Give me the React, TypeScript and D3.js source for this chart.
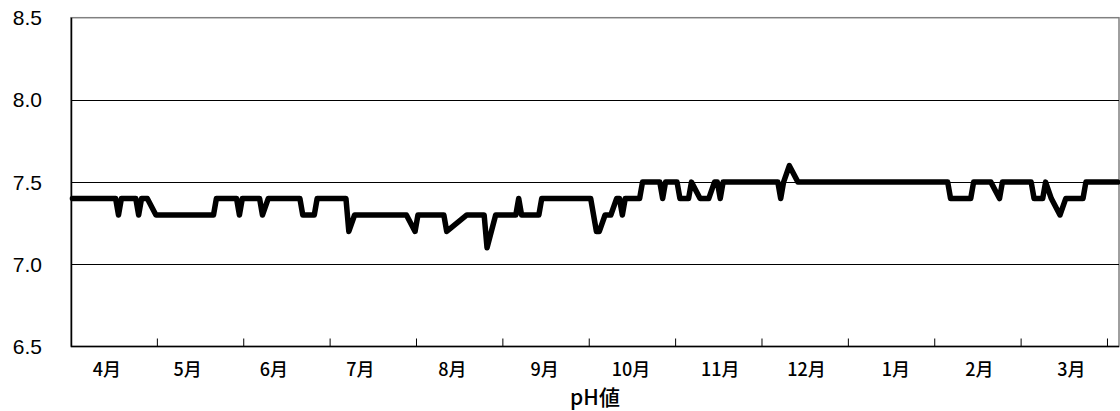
import React from "react";
import * as d3 from "d3";

const n = null;
// daily pH values (Apr → Mar), null = no measurement (line connects across)
const phValues: (number | null)[] = [
  7.4, 7.4, 7.4, 7.4, 7.4, 7.4, 7.4, 7.4, 7.4, 7.4,
  7.4, 7.4, 7.4, 7.4, 7.4, 7.4, 7.3, 7.4, 7.4, 7.4,
  7.4, 7.4, 7.4, 7.3, 7.4, 7.4, 7.4, n, n, 7.3,
  7.3, 7.3, 7.3, 7.3, 7.3, 7.3, 7.3, 7.3, 7.3, 7.3,
  7.3, 7.3, 7.3, 7.3, 7.3, 7.3, 7.3, 7.3, 7.3, 7.3,
  7.4, 7.4, 7.4, 7.4, 7.4, 7.4, 7.4, 7.4, 7.3, 7.4,
  7.4, 7.4, 7.4, 7.4, 7.4, 7.4, 7.3, n, 7.4, 7.4,
  7.4, 7.4, 7.4, 7.4, 7.4, 7.4, 7.4, 7.4, 7.4, 7.4,
  7.3, 7.3, 7.3, 7.3, 7.3, 7.4, 7.4, 7.4, 7.4, 7.4,
  7.4, 7.4, 7.4, 7.4, 7.4, 7.4, 7.2, n, 7.3, 7.3,
  7.3, 7.3, 7.3, 7.3, 7.3, 7.3, 7.3, 7.3, 7.3, 7.3,
  7.3, 7.3, 7.3, 7.3, 7.3, 7.3, 7.3, n, n, 7.2,
  7.3, 7.3, 7.3, 7.3, 7.3, 7.3, 7.3, 7.3, 7.3, 7.3,
  7.2, n, n, n, n, n, n, 7.3, 7.3, 7.3,
  7.3, 7.3, 7.3, 7.3, 7.1, n, n, 7.3, 7.3, 7.3,
  7.3, 7.3, 7.3, 7.3, 7.3, 7.4, 7.3, 7.3, 7.3, 7.3,
  7.3, 7.3, 7.3, 7.4, 7.4, 7.4, 7.4, 7.4, 7.4, 7.4,
  7.4, 7.4, 7.4, 7.4, 7.4, 7.4, 7.4, 7.4, 7.4, 7.4,
  7.4, n, 7.2, 7.2, n, 7.3, 7.3, 7.3, n, 7.4,
  7.4, 7.3, 7.4, 7.4, 7.4, 7.4, 7.4, 7.4, 7.5, 7.5,
  7.5, 7.5, 7.5, 7.5, 7.5, 7.4, 7.5, 7.5, 7.5, 7.5,
  7.5, 7.4, 7.4, 7.4, 7.4, 7.5, n, n, 7.4, 7.4,
  7.4, 7.4, n, 7.5, 7.5, 7.4, 7.5, 7.5, 7.5, 7.5,
  7.5, 7.5, 7.5, 7.5, 7.5, 7.5, 7.5, 7.5, 7.5, 7.5,
  7.5, 7.5, 7.5, 7.5, 7.5, 7.5, 7.4, 7.5, n, 7.6,
  n, n, 7.5, 7.5, 7.5, 7.5, 7.5, 7.5, 7.5, 7.5,
  7.5, 7.5, 7.5, 7.5, 7.5, 7.5, 7.5, 7.5, 7.5, 7.5,
  7.5, 7.5, 7.5, 7.5, 7.5, 7.5, 7.5, 7.5, 7.5, 7.5,
  7.5, 7.5, 7.5, 7.5, 7.5, 7.5, 7.5, 7.5, 7.5, 7.5,
  7.5, 7.5, 7.5, 7.5, 7.5, 7.5, 7.5, 7.5, 7.5, 7.5,
  7.5, 7.5, 7.5, 7.5, 7.5, 7.4, 7.4, 7.4, 7.4, 7.4,
  7.4, 7.4, 7.4, 7.5, 7.5, 7.5, 7.5, 7.5, 7.5, 7.5,
  n, n, 7.4, 7.5, 7.5, 7.5, 7.5, 7.5, 7.5, 7.5,
  7.5, 7.5, 7.5, 7.5, 7.4, 7.4, 7.4, 7.4, 7.5, n,
  7.4, n, n, 7.3, n, 7.4, 7.4, 7.4, 7.4, 7.4,
  7.4, 7.4, 7.5, 7.5, 7.5, 7.5, 7.5, 7.5, 7.5, 7.5,
  7.5, 7.5, 7.5, 7.5,
];

const monthLabels = ["4月", "5月", "6月", "7月", "8月", "9月", "10月", "11月", "12月", "1月", "2月", "3月"];
// day index under each month label
const monthLabelDays = [12, 40, 70, 100, 132, 164, 194, 225, 255, 286, 315, 347];
const yTicks = [6.5, 7.0, 7.5, 8.0, 8.5];
const daysPerTick = 30;
const axisTitle = "pH値";

const W = 1120;
const H = 411;
const left = 71;
const right = 1119;
const top = 17.7;
const bottom = 346.5;

export default function App() {
  const N = phValues.length;
  const x = d3.scaleLinear().domain([0, N]).range([left, right]);
  const y = d3.scaleLinear().domain([6.5, 8.5]).range([bottom, top]);

  const pts = phValues
    .map((v, i) => ({ i, v }))
    .filter((d) => d.v !== null) as { i: number; v: number }[];
  const line = d3
    .line<{ i: number; v: number }>()
    .x((d) => x(d.i + 0.5))
    .y((d) => y(d.v));

  const tickIdx = d3.range(1, monthLabels.length + 1).map((k) => k * daysPerTick);

  return (
    <svg
      width={W}
      height={H}
      style={{ position: "absolute", left: 0, top: 0, background: "#fff" }}
    >
      <rect x={left} y={top} width={right - left} height={bottom - top} fill="#fff" stroke="#808080" strokeWidth={1.5} />
      {yTicks.slice(1, -1).map((t) => (
        <line key={t} x1={left} x2={right} y1={Math.round(y(t)) + 0.5} y2={Math.round(y(t)) + 0.5} stroke="#000" strokeWidth={1} />
      ))}
      <line x1={left + 0.5} x2={left + 0.5} y1={top} y2={bottom} stroke="#000" strokeWidth={1.5} />
      <line x1={left} x2={right} y1={bottom} y2={bottom} stroke="#000" strokeWidth={1.5} />
      {tickIdx.map((t) => (
        <line key={t} x1={x(t)} x2={x(t)} y1={bottom} y2={bottom - 8} stroke="#000" strokeWidth={1} />
      ))}
      {yTicks.map((t) => (
        <text
          key={t}
          x={42}
          y={y(t)}
          dy="0.36em"
          textAnchor="end"
          fontFamily="'Liberation Sans', Arial, sans-serif"
          fontSize={21}
          fill="#000"
        >
          {t.toFixed(1)}
        </text>
      ))}
      {monthLabels.map((m, k) => (
        <text
          key={m}
          x={x(monthLabelDays[k] + 0.5)}
          y={376}
          textAnchor="middle"
          fontFamily="'Noto Sans CJK JP', sans-serif"
          fontSize={18}
          fontWeight={500}
          fill="#000"
        >
          {m}
        </text>
      ))}
      <text
        x={(left + right) / 2}
        y={405}
        textAnchor="middle"
        fontFamily="'Noto Sans CJK JP', sans-serif"
        fontSize={21}
        fontWeight={500}
        fill="#000"
      >
        {axisTitle}
      </text>
      <path d={line(pts) || ""} fill="none" stroke="#000" strokeWidth={5.5} strokeLinejoin="round" strokeLinecap="round" />
    </svg>
  );
}
